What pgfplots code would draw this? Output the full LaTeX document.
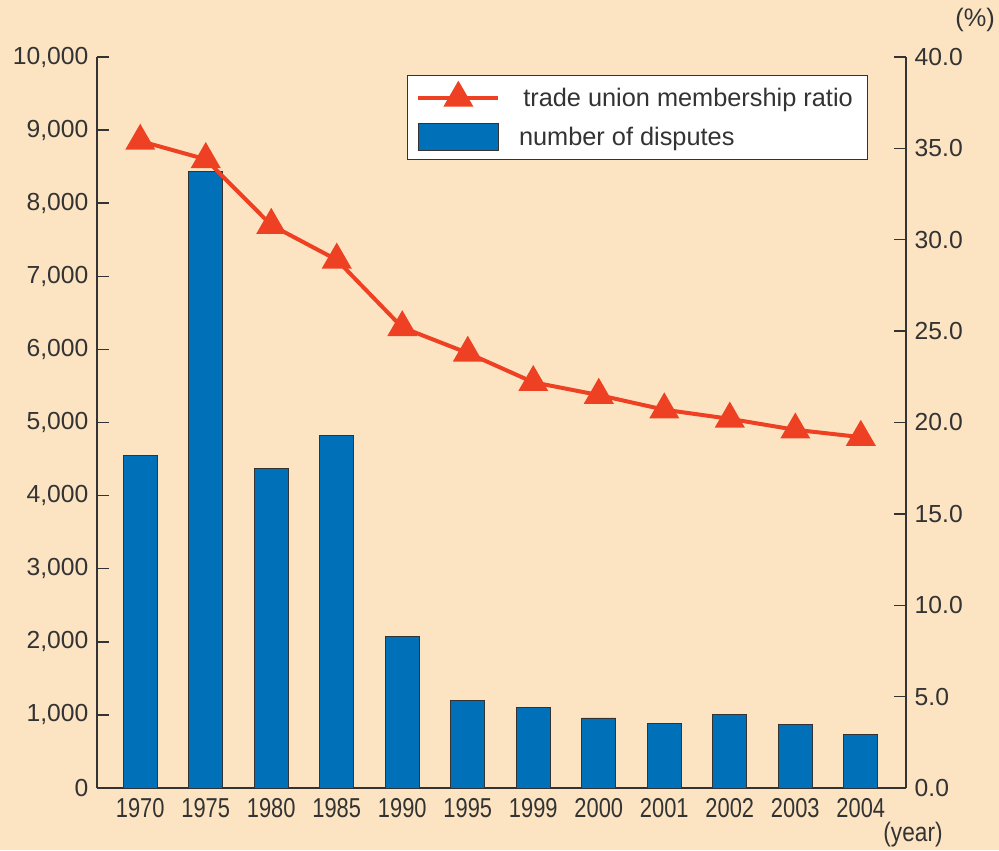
\documentclass[border=0pt]{standalone}
\usepackage{pgfplots}
\pgfplotsset{compat=1.18}
\usepackage{graphicx}
\usepackage{fontspec}
\setmainfont{Liberation Sans}
\definecolor{bg}{HTML}{FCE4C2}
\definecolor{barblue}{HTML}{0070B8}
\definecolor{linered}{HTML}{EE4123}
\definecolor{axisgray}{HTML}{333333}
\newcommand\cy[1]{\scalebox{0.8}[1]{#1}}
\pgfplotsset{
  linelegend/.style={legend image code/.code={\draw[mark repeat=2,mark phase=2,##1] plot coordinates {(0pt,0pt) (30pt,0pt) (60pt,0pt)};}},
  barlegend/.style={legend image code/.code={\draw[##1] (0pt,-10pt) rectangle (60pt,10pt);}},
}
\begin{document}
\begin{tikzpicture}
\fill[bg] (0,0) rectangle (749.25pt,637.5pt);
\useasboundingbox (0,0) rectangle (749.25pt,637.5pt);
\pgfplotsset{
  common/.style={
    scale only axis, width=606.75pt, height=548.25pt,
    at={(72.75pt,46.5pt)}, anchor=south west,
    xmin=-0.66, xmax=11.69,
    axis line style={axisgray, line width=1.1pt, -},
    every outer x axis line/.append style={-},
    every outer y axis line/.append style={-},
    every inner x axis line/.append style={-},
    every inner y axis line/.append style={-},
    tick style={axisgray, line width=1.1pt},
    every tick label/.append style={font=\fontsize{18.5pt}{21pt}\selectfont, text=axisgray},
    /pgf/number format/assume math mode=true,
    clip=false,
  }
}
\begin{axis}[common,
  axis x line=bottom, axis y line=left,
  x axis line style={-}, y axis line style={-},
  tick align=inside, major tick length=9pt,
  ymin=0, ymax=10000, ytick={0,1000,...,10000},
  scaled y ticks=false,
  yticklabel style={/pgf/number format/1000 sep={,}, xshift=-3pt},
  xtick={0,...,11},
  xticklabels={\cy{1970},\cy{1975},\cy{1980},\cy{1985},\cy{1990},\cy{1995},\cy{1999},\cy{2000},\cy{2001},\cy{2002},\cy{2003},\cy{2004}},
  x tick label style={font=\fontsize{20.5pt}{22pt}\selectfont, yshift=-4pt},
  major x tick style={draw=none},
  ]
\addplot[ybar, bar width=25.5pt, fill=barblue, draw=axisgray, line width=0.7pt] coordinates {
(0,4551) (1,8435) (2,4376) (3,4826) (4,2071) (5,1200) (6,1102) (7,958) (8,884) (9,1002) (10,872) (11,737)};
\end{axis}
\begin{axis}[common,
  axis x line=none, axis y line=right,
  y axis line style={-},
  tick align=inside, major tick length=9pt,
  ymin=0, ymax=40, ytick={0,5,...,40},
  yticklabel style={/pgf/number format/.cd, fixed, fixed zerofill, precision=1, /tikz/.cd, xshift=3pt},
  legend style={at={(0.953,0.975)}, anchor=north east, draw=axisgray, fill=white, line width=0.8pt,
    font=\fontsize{19pt}{21pt}\selectfont, text=axisgray, inner xsep=7pt, inner ysep=5pt, row sep=6pt,
    column sep=10pt, nodes={inner sep=4pt}},
  legend cell align=left,
  ]
\addplot[linered, line width=3pt, mark=triangle*, mark size=10pt, mark options={fill=linered, draw=none}, linelegend]
coordinates {(0,35.4) (1,34.4) (2,30.8) (3,28.9) (4,25.2) (5,23.8) (6,22.2) (7,21.5) (8,20.7) (9,20.2) (10,19.6) (11,19.2)};
\addlegendentry{\,trade union membership ratio}
\addlegendimage{fill=barblue, draw=axisgray, line width=0.7pt, barlegend}
\addlegendentry{number of disputes}
\end{axis}
\node[text=axisgray, font=\fontsize{20pt}{22pt}\selectfont] at (684.75pt,11.25pt) {\scalebox{0.85}[1]{(year)}};
\node[text=axisgray, font=\fontsize{19pt}{21pt}\selectfont] at (731.25pt,622.5pt) {(\%)};
\end{tikzpicture}
\end{document}
